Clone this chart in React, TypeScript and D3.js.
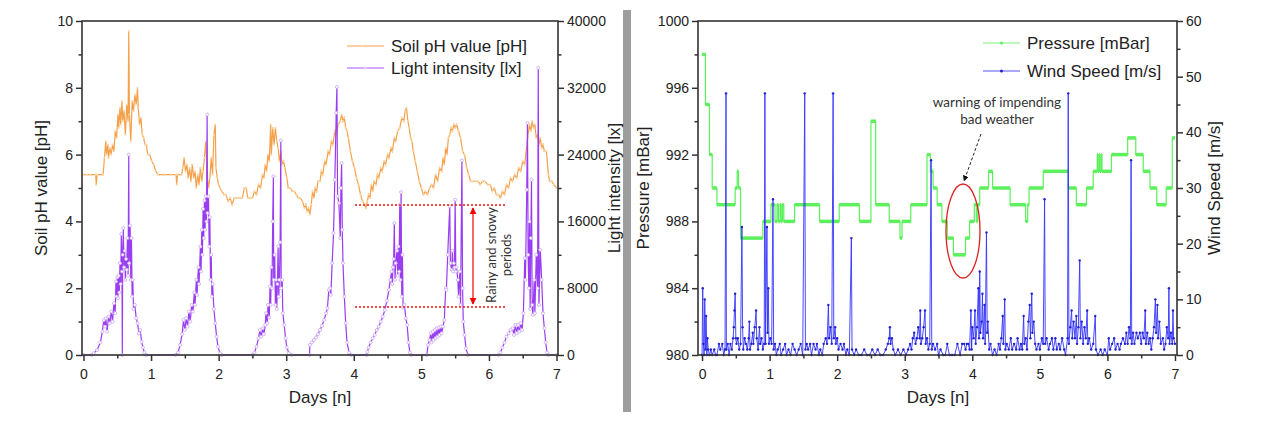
import React, { useEffect, useRef } from 'react';
import * as d3 from 'd3';

// left panel: soil pH [pH] and light intensity [lx] over days
const soilPH: [number, number][] = [
  [0.00, 5.4], [0.05, 5.4], [0.10, 5.4], [0.18, 5.4], [0.19, 5.1], [0.20, 5.4], [0.29, 5.4], [0.31, 5.9], [0.33, 6.4],
  [0.34, 6.0], [0.36, 6.3], [0.37, 5.9], [0.39, 6.2], [0.41, 6.0], [0.43, 6.3], [0.45, 6.1], [0.47, 6.7], [0.49, 6.5],
  [0.51, 7.2], [0.52, 6.8], [0.54, 7.4], [0.55, 6.9], [0.57, 7.6], [0.58, 7.0], [0.60, 7.3], [0.62, 6.6], [0.64, 7.5],
  [0.66, 7.0], [0.67, 9.7], [0.68, 7.2], [0.70, 6.4], [0.72, 7.6], [0.74, 7.3], [0.76, 7.8], [0.78, 7.5], [0.80, 8.0],
  [0.81, 7.4], [0.83, 6.9], [0.85, 7.1], [0.87, 6.6], [0.89, 6.5], [0.91, 6.3], [0.93, 6.3], [0.95, 6.0], [0.98, 6.0],
  [1.01, 5.8], [1.04, 5.7], [1.07, 5.5], [1.10, 5.4], [1.20, 5.4], [1.30, 5.4], [1.37, 5.4], [1.38, 5.1], [1.39, 5.4],
  [1.45, 5.4], [1.47, 5.6], [1.49, 5.9], [1.51, 5.5], [1.53, 5.7], [1.55, 5.3], [1.57, 5.6], [1.59, 5.2], [1.61, 5.7],
  [1.63, 5.3], [1.65, 5.5], [1.67, 5.0], [1.69, 5.4], [1.71, 5.1], [1.73, 5.6], [1.75, 5.2], [1.77, 5.5], [1.79, 5.9],
  [1.81, 6.4], [1.83, 5.4], [1.85, 5.0], [1.87, 5.3], [1.89, 5.9], [1.91, 5.4], [1.93, 6.6], [1.95, 6.9], [1.96, 5.6],
  [1.98, 5.3], [2.00, 5.1], [2.02, 5.0], [2.05, 4.9], [2.08, 4.8], [2.11, 4.8], [2.14, 4.6], [2.17, 4.7], [2.20, 4.5],
  [2.23, 4.7], [2.27, 4.7], [2.31, 4.7], [2.35, 4.7], [2.38, 5.0], [2.41, 5.0], [2.43, 4.7], [2.47, 4.7], [2.50, 4.7],
  [2.53, 4.9], [2.56, 4.8], [2.59, 5.1], [2.62, 5.0], [2.65, 5.4], [2.67, 5.3], [2.69, 5.7], [2.71, 5.5], [2.73, 6.0],
  [2.75, 5.8], [2.77, 6.9], [2.78, 6.0], [2.80, 6.8], [2.82, 6.3], [2.84, 6.8], [2.86, 6.4], [2.88, 6.2], [2.90, 5.8],
  [2.92, 6.1], [2.94, 5.7], [2.96, 5.8], [2.98, 5.6], [3.01, 5.3], [3.03, 5.0], [3.06, 5.0], [3.09, 4.9], [3.12, 4.9],
  [3.15, 4.8], [3.18, 4.7], [3.21, 4.7], [3.24, 4.6], [3.27, 4.4], [3.29, 4.5], [3.31, 4.3], [3.33, 4.4], [3.35, 4.2],
  [3.37, 4.5], [3.39, 4.9], [3.41, 4.7], [3.43, 5.0], [3.45, 4.9], [3.47, 5.2], [3.50, 5.2], [3.52, 5.5], [3.54, 5.4],
  [3.57, 5.8], [3.59, 5.7], [3.62, 6.1], [3.64, 6.0], [3.67, 6.4], [3.69, 6.3], [3.72, 6.7], [3.74, 6.6], [3.77, 6.9],
  [3.80, 7.0], [3.82, 7.2], [3.84, 7.0], [3.86, 7.1], [3.88, 6.8], [3.90, 6.7], [3.92, 6.5], [3.95, 6.1], [3.98, 5.8],
  [4.01, 5.6], [4.04, 5.3], [4.07, 5.1], [4.10, 4.8], [4.13, 4.6], [4.16, 4.5], [4.18, 4.4], [4.20, 4.6], [4.22, 4.8],
  [4.24, 4.7], [4.26, 5.1], [4.28, 4.9], [4.30, 5.2], [4.33, 5.1], [4.35, 5.4], [4.37, 5.3], [4.40, 5.6], [4.42, 5.5],
  [4.45, 5.8], [4.47, 5.7], [4.50, 6.0], [4.52, 5.9], [4.55, 6.2], [4.57, 6.1], [4.60, 6.5], [4.62, 6.4], [4.65, 6.7],
  [4.68, 6.8], [4.71, 7.1], [4.74, 7.0], [4.76, 7.3], [4.78, 7.4], [4.80, 7.0], [4.82, 6.8], [4.84, 6.5], [4.86, 6.4],
  [4.88, 6.1], [4.91, 5.8], [4.94, 5.5], [4.97, 5.2], [5.00, 5.0], [5.03, 4.8], [5.06, 4.9], [5.09, 4.8], [5.12, 5.0],
  [5.15, 5.1], [5.18, 5.0], [5.21, 5.4], [5.24, 5.2], [5.27, 5.6], [5.30, 5.5], [5.32, 5.9], [5.34, 5.7], [5.36, 6.2],
  [5.38, 6.0], [5.40, 6.5], [5.42, 6.6], [5.44, 6.8], [5.46, 6.7], [5.48, 6.9], [5.50, 6.8], [5.52, 6.9], [5.55, 6.7],
  [5.58, 6.5], [5.61, 6.1], [5.64, 6.0], [5.67, 5.6], [5.70, 5.4], [5.73, 5.2], [5.76, 5.2], [5.80, 5.2], [5.84, 5.2],
  [5.87, 5.1], [5.90, 5.2], [5.94, 5.2], [5.98, 5.1], [6.02, 5.1], [6.05, 4.9], [6.08, 5.0], [6.11, 4.8], [6.14, 4.8],
  [6.17, 4.7], [6.20, 4.9], [6.23, 4.8], [6.26, 5.1], [6.29, 5.0], [6.32, 5.3], [6.35, 5.2], [6.38, 5.4], [6.41, 5.3],
  [6.44, 5.6], [6.47, 5.5], [6.50, 5.8], [6.53, 5.7], [6.56, 6.3], [6.58, 6.6], [6.60, 6.9], [6.62, 6.7], [6.64, 7.0],
  [6.66, 6.8], [6.68, 6.9], [6.70, 6.5], [6.72, 6.6], [6.74, 6.3], [6.76, 6.5], [6.78, 6.2], [6.80, 6.3], [6.82, 6.1],
  [6.85, 6.1], [6.88, 5.4], [6.90, 5.2], [6.93, 5.2], [6.96, 5.1], [7.00, 5.0],
];

const lightIntensity: [number, number][] = [
  [0.00, 0], [0.12, 0], [0.15, 200], [0.20, 600], [0.25, 1500], [0.28, 2800], [0.30, 4200], [0.32, 3400], [0.33, 4400],
  [0.35, 2800], [0.37, 4600], [0.39, 3800], [0.41, 5200], [0.43, 4000], [0.45, 6200], [0.47, 5000], [0.48, 8800],
  [0.49, 7000], [0.50, 9300], [0.51, 6800], [0.52, 9500], [0.53, 7500], [0.54, 11000], [0.55, 8500], [0.56, 14500],
  [0.57, 10000], [0.575, 0], [0.58, 12000], [0.59, 15200], [0.60, 10500], [0.61, 12500], [0.62, 9000], [0.63, 11500],
  [0.64, 10200], [0.65, 14000], [0.66, 9500], [0.67, 24000], [0.675, 11000], [0.69, 15500], [0.70, 9000], [0.71, 14000],
  [0.72, 7000], [0.73, 9000], [0.74, 5500], [0.76, 6000], [0.78, 4400], [0.80, 3800], [0.82, 2600], [0.84, 3000],
  [0.86, 1600], [0.88, 900], [0.90, 300], [0.93, 0],
  [1.36, 0], [1.40, 300], [1.43, 1200], [1.46, 2500], [1.48, 4200], [1.50, 3000], [1.52, 4400], [1.54, 3400], [1.56, 5200],
  [1.58, 4000], [1.60, 6000], [1.62, 5200], [1.64, 7500], [1.65, 6000], [1.67, 9000], [1.68, 7200], [1.70, 10500],
  [1.71, 8500], [1.73, 13000], [1.74, 10000], [1.75, 15000], [1.76, 12000], [1.77, 17500], [1.78, 14000], [1.79, 18500],
  [1.80, 15000], [1.81, 19000], [1.82, 16000], [1.83, 28800], [1.835, 17000], [1.85, 19000], [1.86, 13000], [1.87, 16500],
  [1.88, 9000], [1.89, 12000], [1.90, 7000], [1.91, 8500], [1.93, 5500], [1.95, 3800], [1.97, 2200], [1.99, 1000],
  [2.02, 200], [2.05, 0],
  [2.50, 0], [2.53, 300], [2.56, 1000], [2.59, 2000], [2.61, 3000], [2.63, 2200], [2.65, 3200], [2.67, 2500], [2.69, 3600],
  [2.70, 5000], [2.72, 3800], [2.73, 6000], [2.75, 4500], [2.76, 8200], [2.77, 6000], [2.78, 10500], [2.79, 8000],
  [2.80, 16000], [2.81, 21400], [2.815, 9000], [2.83, 12000], [2.84, 6000], [2.85, 9000], [2.86, 5500], [2.87, 8500],
  [2.88, 13000], [2.89, 7000], [2.90, 9000], [2.91, 13500], [2.92, 25700], [2.925, 8000], [2.94, 9000], [2.95, 5000],
  [2.97, 3600], [2.99, 2000], [3.01, 900], [3.04, 200], [3.08, 0],
  [3.345, 0], [3.35, 1200], [3.38, 1500], [3.41, 1800], [3.44, 2100], [3.47, 2500], [3.50, 3000], [3.53, 3500],
  [3.56, 4200], [3.59, 5000], [3.61, 5600], [3.63, 7800], [3.65, 8000], [3.66, 7200], [3.68, 11000], [3.70, 14600],
  [3.72, 21000], [3.74, 29000], [3.75, 32100], [3.76, 19000], [3.78, 18200], [3.80, 14000], [3.81, 20000], [3.82, 23000],
  [3.83, 15000], [3.84, 11000], [3.86, 7000], [3.88, 3800], [3.90, 1500], [3.93, 300], [3.96, 0],
  [4.19, 0], [4.20, 400], [4.22, 900], [4.25, 1500], [4.28, 2000], [4.31, 2400], [4.34, 3000], [4.37, 3400], [4.40, 4000],
  [4.43, 4600], [4.46, 5400], [4.49, 6500], [4.52, 7800], [4.54, 9000], [4.56, 10000], [4.57, 8500], [4.58, 10500],
  [4.59, 11500], [4.60, 15800], [4.61, 9000], [4.62, 11000], [4.64, 12500], [4.65, 9500], [4.66, 13000], [4.67, 10000],
  [4.68, 18000], [4.69, 9000], [4.70, 19500], [4.71, 7000], [4.72, 12000], [4.73, 5700], [4.75, 6000], [4.77, 4400],
  [4.79, 3600], [4.81, 1500], [4.83, 300], [4.85, 0],
  [5.08, 0], [5.10, 1200], [5.12, 1800], [5.14, 2600], [5.15, 1500], [5.17, 2800], [5.18, 1800], [5.20, 3000], [5.21, 2000],
  [5.23, 3200], [5.24, 2200], [5.26, 3300], [5.27, 2400], [5.29, 3400], [5.30, 2600], [5.32, 3400], [5.34, 4200],
  [5.36, 8000], [5.37, 7800], [5.39, 12000], [5.42, 17800], [5.43, 11000], [5.45, 10200], [5.46, 12500], [5.47, 10000],
  [5.48, 11000], [5.49, 10500], [5.50, 18600], [5.51, 10000], [5.52, 10500], [5.54, 9000], [5.55, 7000], [5.57, 10000],
  [5.58, 6000], [5.60, 23300], [5.61, 8000], [5.62, 4000], [5.64, 2400], [5.66, 800], [5.69, 0],
  [6.14, 0], [6.17, 300], [6.20, 900], [6.23, 1500], [6.26, 2200], [6.29, 2600], [6.32, 3000], [6.35, 3200], [6.37, 2400],
  [6.39, 3600], [6.41, 2600], [6.43, 3600], [6.45, 2800], [6.47, 3800], [6.49, 3000], [6.51, 5000], [6.53, 11600],
  [6.54, 9000], [6.56, 19800], [6.57, 27800], [6.58, 12000], [6.59, 8000], [6.60, 16000], [6.61, 5500], [6.62, 14000],
  [6.63, 21000], [6.64, 6000], [6.65, 4800], [6.67, 9000], [6.68, 5000], [6.70, 12000], [6.72, 8000], [6.73, 34400],
  [6.74, 6000], [6.76, 12600], [6.78, 9000], [6.80, 5000], [6.82, 3200], [6.84, 1500], [6.86, 300], [6.88, 0], [7.00, 0],
];

// right panel: pressure [mBar] (stepped) and wind speed [m/s]
const pressure: [number, number][] = [
  [0.00, 998], [0.05, 995], [0.11, 992], [0.15, 990], [0.22, 989], [0.49, 990], [0.52, 991], [0.54, 990], [0.57, 987],
  [0.90, 988], [1.02, 989], [1.08, 988], [1.11, 989], [1.13, 988], [1.155, 989], [1.17, 988], [1.19, 989], [1.21, 988],
  [1.37, 989], [1.74, 988], [2.03, 989], [2.33, 988], [2.50, 994], [2.57, 989], [2.77, 988], [2.93, 987], [2.96, 988],
  [3.09, 989], [3.33, 992], [3.38, 991], [3.42, 990], [3.48, 989], [3.55, 988], [3.63, 987], [3.72, 986], [3.90, 987],
  [3.96, 988], [4.03, 989], [4.06, 988], [4.08, 989], [4.11, 990], [4.24, 991], [4.30, 990], [4.56, 989], [4.79, 988],
  [4.82, 989], [4.84, 990], [5.05, 991], [5.42, 990], [5.54, 989], [5.69, 990], [5.79, 991], [5.85, 992], [5.86, 991],
  [5.88, 992], [5.89, 991], [5.91, 992], [5.92, 991], [6.06, 992], [6.30, 993], [6.42, 992], [6.53, 991], [6.63, 990],
  [6.73, 989], [6.87, 990], [6.96, 993], [7.00, 993],
];

const windSpeed: [number, number][] = [
  [0.00, 0], [0.01, 12], [0.02, 2], [0.03, 0], [0.04, 10], [0.05, 1], [0.06, 7], [0.07, 0], [0.08, 3], [0.09, 1], [0.11, 0],
  [0.13, 1], [0.15, 0], [0.18, 1], [0.20, 0], [0.22, 0], [0.25, 2], [0.27, 1], [0.30, 2], [0.32, 0], [0.34, 1], [0.355, 47],
  [0.36, 1], [0.38, 2], [0.40, 0], [0.42, 2], [0.44, 1], [0.46, 3], [0.47, 5], [0.48, 8], [0.49, 11], [0.50, 3], [0.51, 2],
  [0.53, 3], [0.55, 1], [0.57, 2], [0.59, 23], [0.60, 5], [0.61, 1], [0.63, 3], [0.65, 2], [0.67, 1], [0.69, 3], [0.70, 6],
  [0.71, 1], [0.73, 2], [0.75, 4], [0.76, 2], [0.78, 5], [0.80, 8], [0.81, 3], [0.83, 1], [0.85, 5], [0.86, 2], [0.88, 3],
  [0.90, 1], [0.92, 2], [0.93, 47], [0.94, 2], [0.96, 23], [0.97, 4], [0.98, 12], [0.99, 2], [1.01, 3], [1.03, 2],
  [1.05, 28], [1.06, 1], [1.08, 2], [1.10, 0], [1.12, 1], [1.15, 2], [1.17, 0], [1.20, 1], [1.23, 2], [1.25, 0], [1.28, 1],
  [1.31, 0], [1.34, 2], [1.37, 1], [1.40, 0], [1.43, 1], [1.46, 2], [1.49, 0], [1.52, 47], [1.53, 1], [1.55, 2], [1.57, 1],
  [1.60, 2], [1.62, 0], [1.65, 2], [1.68, 1], [1.70, 2], [1.73, 0], [1.75, 1], [1.78, 0], [1.80, 2], [1.83, 3], [1.85, 2],
  [1.87, 9], [1.88, 3], [1.90, 5], [1.92, 2], [1.94, 47], [1.95, 3], [1.97, 5], [1.98, 2], [2.00, 3], [2.02, 1], [2.05, 2],
  [2.08, 1], [2.10, 2], [2.13, 0], [2.15, 1], [2.18, 0], [2.21, 21], [2.22, 1], [2.25, 0], [2.28, 1], [2.32, 0], [2.36, 0],
  [2.40, 1], [2.44, 0], [2.48, 0], [2.52, 1], [2.56, 0], [2.60, 1], [2.64, 0], [2.68, 0], [2.72, 1], [2.75, 2], [2.77, 3],
  [2.78, 5], [2.79, 2], [2.81, 3], [2.83, 1], [2.86, 0], [2.90, 1], [2.94, 0], [2.98, 1], [3.02, 0], [3.05, 1], [3.08, 2],
  [3.10, 1], [3.12, 3], [3.14, 4], [3.16, 2], [3.18, 3], [3.20, 5], [3.22, 3], [3.23, 8], [3.24, 2], [3.26, 3], [3.28, 5],
  [3.30, 8], [3.31, 2], [3.33, 3], [3.35, 1], [3.37, 2], [3.39, 35], [3.40, 1], [3.42, 2], [3.45, 1], [3.48, 2], [3.50, 0],
  [3.53, 1], [3.57, 0], [3.60, 0], [3.63, 2], [3.66, 0], [3.70, 0], [3.74, 0], [3.78, 2], [3.82, 0], [3.85, 2], [3.88, 2],
  [3.90, 1], [3.92, 2], [3.94, 2], [3.96, 1], [3.98, 8], [3.99, 1], [4.00, 5], [4.02, 3], [4.04, 8], [4.05, 2], [4.07, 5],
  [4.09, 12], [4.10, 3], [4.11, 15], [4.12, 4], [4.14, 6], [4.15, 11], [4.16, 3], [4.18, 9], [4.19, 2], [4.21, 22],
  [4.22, 4], [4.23, 6], [4.25, 1], [4.27, 2], [4.30, 0], [4.33, 1], [4.36, 0], [4.39, 2], [4.41, 1], [4.43, 3], [4.45, 7],
  [4.46, 2], [4.48, 10], [4.49, 1], [4.51, 2], [4.54, 1], [4.57, 3], [4.59, 1], [4.62, 2], [4.65, 1], [4.67, 3], [4.70, 1],
  [4.72, 2], [4.74, 1], [4.76, 7], [4.77, 2], [4.79, 3], [4.81, 1], [4.83, 6], [4.85, 9], [4.86, 3], [4.88, 11], [4.89, 4],
  [4.91, 6], [4.93, 2], [4.95, 1], [4.98, 2], [5.00, 1], [5.03, 3], [5.05, 2], [5.07, 28], [5.08, 2], [5.10, 3], [5.13, 1],
  [5.15, 2], [5.18, 3], [5.20, 1], [5.23, 3], [5.25, 1], [5.28, 2], [5.30, 1], [5.33, 3], [5.36, 1], [5.38, 0], [5.41, 3],
  [5.42, 47], [5.43, 2], [5.45, 5], [5.47, 8], [5.48, 3], [5.50, 6], [5.52, 3], [5.54, 7], [5.55, 2], [5.57, 5], [5.59, 17],
  [5.60, 3], [5.62, 6], [5.64, 2], [5.66, 5], [5.68, 3], [5.70, 8], [5.71, 2], [5.73, 3], [5.76, 1], [5.79, 2], [5.82, 7],
  [5.83, 1], [5.86, 0], [5.90, 1], [5.93, 0], [5.96, 1], [6.00, 0], [6.02, 3], [6.04, 1], [6.07, 2], [6.10, 3], [6.12, 1],
  [6.15, 2], [6.18, 1], [6.20, 2], [6.23, 3], [6.26, 2], [6.28, 4], [6.30, 2], [6.32, 5], [6.34, 3], [6.35, 35], [6.36, 2],
  [6.38, 4], [6.40, 2], [6.43, 4], [6.45, 3], [6.48, 4], [6.50, 2], [6.52, 4], [6.54, 3], [6.56, 8], [6.57, 2], [6.59, 4],
  [6.61, 2], [6.63, 3], [6.65, 1], [6.67, 3], [6.69, 5], [6.71, 10], [6.72, 4], [6.74, 9], [6.75, 3], [6.77, 6], [6.79, 2],
  [6.82, 3], [6.84, 1], [6.86, 2], [6.88, 5], [6.90, 3], [6.91, 12], [6.92, 2], [6.94, 4], [6.96, 2], [6.97, 8], [6.98, 3],
  [7.00, 2],
];

const dayTicks = [0, 1, 2, 3, 4, 5, 6, 7];
const dayMinor = [0.5, 1.5, 2.5, 3.5, 4.5, 5.5, 6.5];
const phTicks = [0, 2, 4, 6, 8, 10];
const phMinor = [1, 3, 5, 7, 9];
const luxTicks = [0, 8000, 16000, 24000, 32000, 40000];
const luxMinor = [4000, 12000, 20000, 28000, 36000];
const pressureTicks = [980, 984, 988, 992, 996, 1000];
const pressureMinor = [982, 986, 990, 994, 998];
const windTicks = [0, 10, 20, 30, 40, 50, 60];
const windMinor = [5, 15, 25, 35, 45, 55];

const TOP = 21;
const BOTTOM = 355;
const AXIS_FONT = '"Liberation Sans", Arial, sans-serif';
const NOTE_FONT = 'Lato, "Open Sans", sans-serif';

type G = d3.Selection<SVGGElement, unknown, null, undefined>;

function drawAxis(g: G, axis: d3.Axis<number>, major: number[], minor: number[], transform: string) {
  const fmt = d3.format('d');
  const ga = g.append('g').attr('transform', transform)
    .call(axis.tickValues(major).tickSize(6).tickPadding(3).tickFormat((d) => fmt(d)) as any);
  ga.select('.domain').remove();
  ga.selectAll('line').attr('stroke', '#333').attr('stroke-width', 1.5);
  ga.selectAll('text').attr('font-family', AXIS_FONT).attr('font-size', 14).attr('fill', '#222');
  const gm = g.append('g').attr('transform', transform)
    .call(axis.tickValues(minor).tickSize(3.5).tickFormat(() => '') as any);
  gm.select('.domain').remove();
  gm.selectAll('line').attr('stroke', '#333').attr('stroke-width', 1.5);
  return ga;
}

const App: React.FC = () => {
  const svgRef = useRef<SVGSVGElement | null>(null);

  useEffect(() => {
    const svg = d3.select(svgRef.current);
    svg.selectAll('*').remove();
    const root = svg.append('g') as unknown as G;

    // ---------- scales ----------
    const xL = d3.scaleLinear().domain([-0.022, 7.022]).range([82, 558]);
    const xR = d3.scaleLinear().domain([-0.06, 7.03]).range([698, 1177]);
    const yPH = d3.scaleLinear().domain([0, 10]).range([BOTTOM, TOP]);
    const yLux = d3.scaleLinear().domain([0, 40000]).range([BOTTOM, TOP]);
    const yP = d3.scaleLinear().domain([980, 1000]).range([BOTTOM, TOP]);
    const yW = d3.scaleLinear().domain([0, 60]).range([BOTTOM, TOP]);

    // divider bar between panels
    root.append('rect').attr('x', 623).attr('y', 10).attr('width', 8).attr('height', 402).attr('fill', '#9d9d9d');

    // ---------- left panel ----------
    const left = root.append('g');
    const phLine = d3.line<[number, number]>().x((d) => xL(d[0])).y((d) => yPH(d[1]));
    left.append('path').datum(soilPH).attr('d', phLine).attr('fill', 'none')
      .attr('stroke', '#f5a04a').attr('stroke-width', 1.2);
    left.append('g').selectAll('circle').data(soilPH).enter().append('circle')
      .attr('cx', (d) => xL(d[0])).attr('cy', (d) => yPH(d[1])).attr('r', 1.1)
      .attr('fill', '#fbd5a6');

    const luxLine = d3.line<[number, number]>().x((d) => xL(d[0])).y((d) => yLux(d[1]));
    left.append('path').datum(lightIntensity).attr('d', luxLine).attr('fill', 'none')
      .attr('stroke', '#9a3cf2').attr('stroke-width', 1.2);
    left.append('g').selectAll('circle').data(lightIntensity).enter().append('circle')
      .attr('cx', (d) => xL(d[0])).attr('cy', (d) => yLux(d[1])).attr('r', 1.5)
      .attr('fill', '#fff').attr('stroke', '#c9a4f3').attr('stroke-width', 0.8);

    left.append('rect').attr('x', 82).attr('y', TOP).attr('width', 476).attr('height', BOTTOM - TOP)
      .attr('fill', 'none').attr('stroke', '#333').attr('stroke-width', 1.6);

    drawAxis(left, d3.axisBottom<number>(xL), dayTicks, dayMinor, `translate(0,${BOTTOM})`)
      .selectAll('text').attr('dy', '1.05em');
    drawAxis(left, d3.axisLeft<number>(yPH), phTicks, phMinor, 'translate(82,0)');
    drawAxis(left, d3.axisRight<number>(yLux), luxTicks, luxMinor, 'translate(558,0)');

    // ---------- right panel ----------
    const right = root.append('g');
    const pLine = d3.line<[number, number]>().x((d) => xR(d[0])).y((d) => yP(d[1])).curve(d3.curveStepAfter);
    right.append('path').datum(pressure).attr('d', pLine).attr('fill', 'none')
      .attr('stroke', '#5cf05c').attr('stroke-width', 1.2);
    right.append('g').selectAll('line').data(pressure.slice(0, -1)).enter().append('line')
      .attr('x1', (d) => xR(d[0])).attr('x2', (d, i) => xR(pressure[i + 1][0]))
      .attr('y1', (d) => yP(d[1])).attr('y2', (d) => yP(d[1]))
      .attr('stroke', '#5cf05c').attr('stroke-width', 3.5);

    const wLine = d3.line<[number, number]>().x((d) => xR(d[0])).y((d) => yW(d[1]));
    right.append('path').datum(windSpeed).attr('d', wLine).attr('fill', 'none')
      .attr('stroke', '#3434ff').attr('stroke-width', 0.9);
    right.append('g').selectAll('circle').data(windSpeed).enter().append('circle')
      .attr('cx', (d) => xR(d[0])).attr('cy', (d) => yW(d[1])).attr('r', 1.2)
      .attr('fill', '#2222cc');

    right.append('rect').attr('x', 698).attr('y', TOP).attr('width', 479).attr('height', BOTTOM - TOP)
      .attr('fill', 'none').attr('stroke', '#333').attr('stroke-width', 1.6);

    drawAxis(right, d3.axisBottom<number>(xR), dayTicks, dayMinor, `translate(0,${BOTTOM})`)
      .selectAll('text').attr('dy', '1.05em');
    drawAxis(right, d3.axisLeft<number>(yP), pressureTicks, pressureMinor, 'translate(698,0)');
    drawAxis(right, d3.axisRight<number>(yW), windTicks, windMinor, 'translate(1177,0)');

    // ---------- axis titles ----------
    const title = (x: number, y: number, text: string, rotate: boolean) => {
      root.append('text')
        .attr('transform', rotate ? `translate(${x},${y}) rotate(-90)` : `translate(${x},${y})`)
        .attr('text-anchor', 'middle').attr('font-family', AXIS_FONT).attr('font-size', 17)
        .attr('fill', '#222').text(text);
    };
    title(320, 403, 'Days [n]', false);
    title(938, 403, 'Days [n]', false);
    title(47, 188, 'Soil pH value [pH]', true);
    title(620, 188, 'Light intensity [lx]', true);
    title(649, 188, 'Pressure [mBar]', true);
    title(1220, 188, 'Wind Speed [m/s]', true);

    // ---------- legends ----------
    const legend = (x: number, y: number, color: string, text: string, markerFill: string) => {
      root.append('line').attr('x1', x).attr('x2', x + 37).attr('y1', y).attr('y2', y)
        .attr('stroke', color).attr('stroke-width', 1.2);
      root.append('circle').attr('cx', x + 18.5).attr('cy', y).attr('r', 1.5).attr('fill', markerFill);
      root.append('text').attr('x', x + 44).attr('y', y + 6).attr('font-family', AXIS_FONT)
        .attr('font-size', 17).attr('fill', '#222').text(text);
    };
    legend(347, 46, '#f5a04a', 'Soil pH value [pH]', '#fbd5a6');
    legend(347, 68, '#a855f7', 'Light intensity [lx]', '#e0ccfa');
    legend(983, 43, '#7af07a', 'Pressure [mBar]', '#5cf05c');
    legend(983, 71, '#5555ff', 'Wind Speed [m/s]', '#2222cc');

    // ---------- annotations ----------
    const defs = svg.append('defs');
    defs.append('marker').attr('id', 'redHead').attr('viewBox', '0 0 10 10').attr('refX', 9).attr('refY', 5)
      .attr('markerWidth', 6).attr('markerHeight', 6).attr('orient', 'auto-start-reverse')
      .append('path').attr('d', 'M0,0 L10,5 L0,10 z').attr('fill', '#ee0000');
    defs.append('marker').attr('id', 'blackHead').attr('viewBox', '0 0 10 10').attr('refX', 9).attr('refY', 5)
      .attr('markerWidth', 6).attr('markerHeight', 6).attr('orient', 'auto')
      .append('path').attr('d', 'M0,0 L10,5 L0,10 z').attr('fill', '#111');

    [205, 307].forEach((y) => {
      root.append('line').attr('x1', 355).attr('x2', 505).attr('y1', y).attr('y2', y)
        .attr('stroke', '#ee1111').attr('stroke-width', 1.6).attr('stroke-dasharray', '2,2');
    });
    root.append('line').attr('x1', 473).attr('x2', 473).attr('y1', 208).attr('y2', 304)
      .attr('stroke', '#ee0000').attr('stroke-width', 1.2)
      .attr('marker-start', 'url(#redHead)').attr('marker-end', 'url(#redHead)');
    const rainy = root.append('text').attr('transform', 'translate(0,0)')
      .attr('font-family', NOTE_FONT).attr('font-size', 13).attr('fill', '#333').attr('text-anchor', 'middle');
    rainy.append('tspan').attr('x', -255).attr('y', 496).text('Rainy and snowy');
    rainy.append('tspan').attr('x', -255).attr('y', 511).text('periods');
    rainy.attr('transform', 'rotate(-90)');

    const warn = root.append('text').attr('font-family', NOTE_FONT).attr('font-size', 13.5)
      .attr('fill', '#333').attr('text-anchor', 'middle');
    warn.append('tspan').attr('x', 997).attr('y', 107).text('warning of impending');
    warn.append('tspan').attr('x', 997).attr('y', 124).text('bad weather');
    root.append('line').attr('x1', 981).attr('y1', 134).attr('x2', 964).attr('y2', 181)
      .attr('stroke', '#222').attr('stroke-width', 1).attr('stroke-dasharray', '3,2')
      .attr('marker-end', 'url(#blackHead)');
    root.append('ellipse').attr('cx', 963).attr('cy', 231).attr('rx', 17).attr('ry', 47)
      .attr('fill', 'none').attr('stroke', '#dd2222').attr('stroke-width', 1.3);
  }, []);

  return (
    <div>
      <svg ref={svgRef} width={1268} height={422}
        style={{ position: 'absolute', left: 0, top: 0, background: '#fff' }} />
    </div>
  );
};

export default App;
